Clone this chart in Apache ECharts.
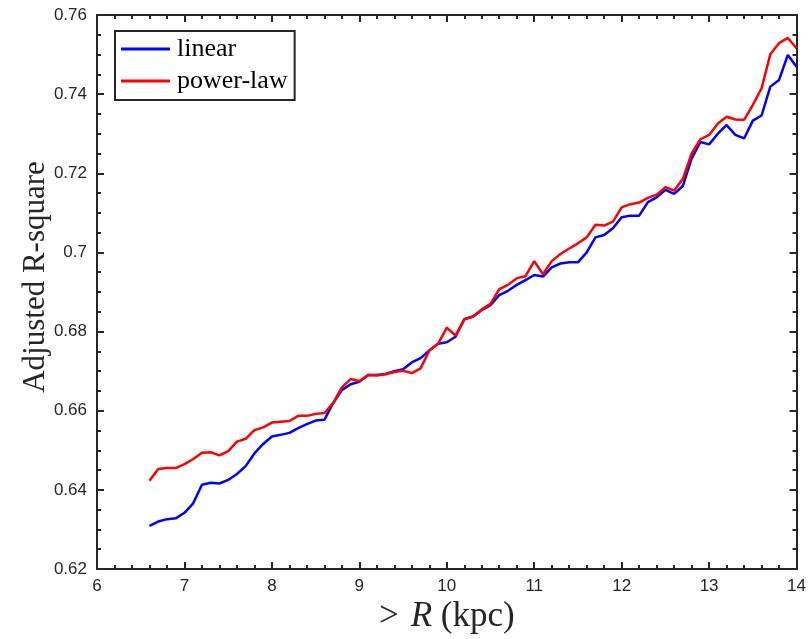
<!DOCTYPE html>
<html>
<head>
<meta charset="utf-8">
<script src="https://cdn.jsdelivr.net/npm/echarts@6/dist/echarts.min.js"></script>
<style>html,body{margin:0;padding:0;background:#fff}#c{width:809px;height:639px}</style>
</head>
<body>
<div id="c"></div>
<script>
const xValues = [6.6,6.7,6.8,6.9,7.0,7.1,7.2,7.3,7.4,7.5,7.6,7.7,7.8,7.9,8.0,8.1,8.2,8.3,8.4,8.5,8.6,8.7,8.8,8.9,9.0,9.1,9.2,9.3,9.4,9.5,9.6,9.7,9.8,9.9,10.0,10.1,10.2,10.3,10.4,10.5,10.6,10.7,10.8,10.9,11.0,11.1,11.2,11.3,11.4,11.5,11.6,11.7,11.8,11.9,12.0,12.1,12.2,12.3,12.4,12.5,12.6,12.7,12.8,12.9,13.0,13.1,13.2,13.3,13.4,13.5,13.6,13.7,13.8,13.9,14.0];
const linearValues = [0.6309,0.6320,0.6326,0.6328,0.6342,0.6366,0.6413,0.6418,0.6416,0.6425,0.6440,0.6460,0.6492,0.6516,0.6535,0.6539,0.6544,0.6556,0.6566,0.6575,0.6577,0.6619,0.6652,0.6667,0.6673,0.6690,0.6690,0.6693,0.6700,0.6705,0.6722,0.6733,0.6752,0.6769,0.6773,0.6787,0.6831,0.6838,0.6854,0.6867,0.6892,0.6903,0.6918,0.6930,0.6943,0.6939,0.6962,0.6972,0.6975,0.6975,0.7000,0.7038,0.7044,0.7061,0.7089,0.7093,0.7093,0.7127,0.7139,0.7158,0.7148,0.7168,0.7237,0.7279,0.7273,0.7300,0.7322,0.7297,0.7288,0.7333,0.7346,0.7419,0.7436,0.7499,0.7469];
const powerValues = [0.6423,0.6453,0.6455,0.6455,0.6465,0.6478,0.6494,0.6495,0.6487,0.6498,0.6522,0.6529,0.6551,0.6558,0.6570,0.6572,0.6574,0.6587,0.6587,0.6592,0.6594,0.6619,0.6659,0.6680,0.6675,0.6690,0.6689,0.6692,0.6698,0.6701,0.6695,0.6707,0.6752,0.6769,0.6810,0.6790,0.6831,0.6838,0.6856,0.6870,0.6907,0.6918,0.6935,0.6940,0.6978,0.6945,0.6978,0.6996,0.7010,0.7023,0.7038,0.7070,0.7068,0.7078,0.7114,0.7122,0.7126,0.7138,0.7146,0.7165,0.7156,0.7186,0.7250,0.7286,0.7297,0.7326,0.7343,0.7336,0.7335,0.7373,0.7415,0.7501,0.7529,0.7542,0.7516];
const seriesNames = ['linear','power-law'];
const xMin = 6, xMax = 14, xStep = 1;
const yMin = 0.62, yMax = 0.76, yStep = 0.02;

const axisColor = '#262626';
const serif = 'Liberation Serif, Times New Roman, serif';
const labelFont = {color: axisColor, fontSize: 17, fontFamily: 'Liberation Sans, Arial, sans-serif'};

function xAxisCfg(pos, showLabel) {
  return {
    type: 'value', position: pos, min: xMin, max: xMax, interval: xStep,
    axisLine: {show: true, onZero: false, lineStyle: {color: axisColor, width: 2}},
    axisTick: {show: true, inside: true, length: 7, lineStyle: {color: axisColor, width: 2}},
    minorTick: {show: true, splitNumber: 5, length: 4, lineStyle: {color: axisColor, width: 2}},
    axisLabel: showLabel ? Object.assign({margin: 9}, labelFont) : {show: false},
    splitLine: {show: false}
  };
}
function yAxisCfg(pos, showLabel) {
  return {
    type: 'value', position: pos, min: yMin, max: yMax, interval: yStep,
    axisLine: {show: true, onZero: false, lineStyle: {color: axisColor, width: 2}},
    axisTick: {show: true, inside: true, length: 7, lineStyle: {color: axisColor, width: 2}},
    minorTick: {show: true, splitNumber: 4, length: 4, lineStyle: {color: axisColor, width: 2}},
    axisLabel: showLabel ? Object.assign({margin: 10, formatter: v => String(+v.toFixed(2))}, labelFont) : {show: false},
    splitLine: {show: false}
  };
}

const xMain = xAxisCfg('bottom', true);
xMain.name = '{g|>}{i|R}{n| (kpc)}';
xMain.nameLocation = 'middle';
xMain.nameGap = 30;
xMain.nameMoveOverlap = false;
xMain.nameTextStyle = {rich: {
  g: {fontFamily: serif, fontSize: 35, color: axisColor, padding: [0, 12, 0, 0]},
  n: {fontFamily: serif, fontSize: 35, color: axisColor},
  i: {fontFamily: serif, fontSize: 35, fontStyle: 'italic', color: axisColor}
}};
const yMain = yAxisCfg('left', true);
yMain.name = 'Adjusted R-square';
yMain.nameLocation = 'middle';
yMain.nameGap = 46;
yMain.nameMoveOverlap = false;
yMain.nameTextStyle = {fontFamily: serif, fontSize: 31, color: axisColor, padding: [0, 0, 0, 30]};

const chart = echarts.init(document.getElementById('c'), null, {renderer: 'canvas'});
chart.setOption({
  backgroundColor: '#fff',
  animation: false,
  grid: {left: 97, right: 12, top: 15, bottom: 70, containLabel: false},
  xAxis: [xMain, xAxisCfg('top', false)],
  yAxis: [yMain, yAxisCfg('right', false)],
  legend: {
    left: 115, top: 31, orient: 'vertical',
    data: seriesNames,
    icon: 'rect',
    itemWidth: 49, itemHeight: 3, itemGap: 6,
    padding: [5, 7, 6, 6],
    borderColor: axisColor, borderWidth: 2,
    textStyle: {fontFamily: serif, fontSize: 26, color: '#000', padding: [0, 0, 0, 2]}
  },
  series: [
    {name: seriesNames[0], type: 'line', xAxisIndex: 0, yAxisIndex: 0, symbol: 'none',
     data: xValues.map((x, i) => [x, linearValues[i]]), lineStyle: {color: '#0000ff', width: 2.5}, itemStyle: {color: '#0000ff'}},
    {name: seriesNames[1], type: 'line', xAxisIndex: 0, yAxisIndex: 0, symbol: 'none',
     data: xValues.map((x, i) => [x, powerValues[i]]), lineStyle: {color: '#ff0000', width: 2.5}, itemStyle: {color: '#ff0000'}}
  ]
});
</script>
</body>
</html>
